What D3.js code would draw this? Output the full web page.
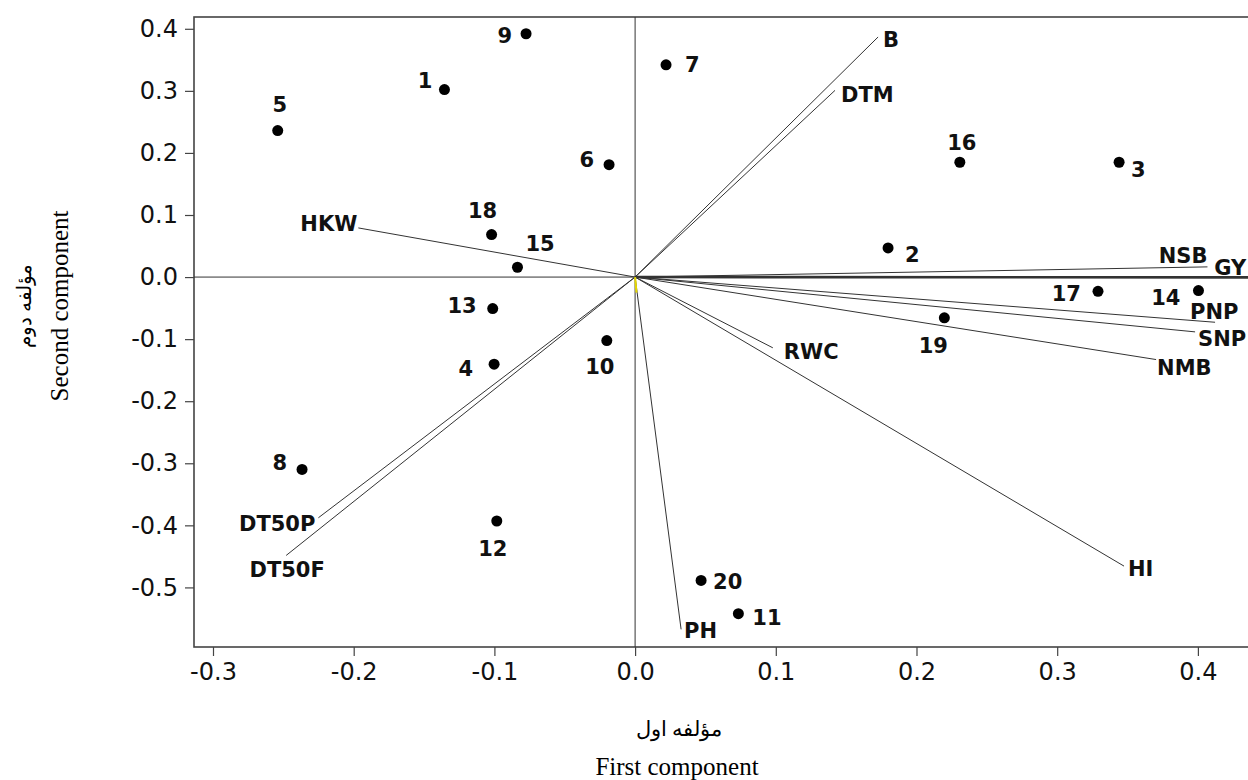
<!DOCTYPE html>
<html>
<head>
<meta charset="utf-8">
<script src="https://cdn.jsdelivr.net/npm/d3@7"></script>
<style>
  body { margin: 0; background: #fff; }
</style>
</head>
<body>
<div id="chart"></div>
<script>
/* DATA */
// genotype scores on the first two components
var genotypes = ["1","2","3","4","5","6","7","8","9","10","11","12","13","14","15","16","17","18","19","20"];
var pc1Scores = [-0.1355, 0.1798, 0.344, -0.1002, -0.254, -0.0185, 0.022, -0.2367, -0.0775, -0.0201,
                 0.0734, -0.0983, -0.1012, 0.4004, -0.0836, 0.2308, 0.329, -0.102, 0.2198, 0.0469];
var pc2Scores = [0.302, 0.047, 0.185, -0.1404, 0.236, 0.181, 0.342, -0.310, 0.392, -0.1023,
                 -0.5424, -0.393, -0.0507, -0.0217, 0.0158, 0.185, -0.0229, 0.0684, -0.0657, -0.4887];

// trait loadings (vectors)
var traits = ["B","DTM","HKW","NSB","GY","PNP","SNP","NMB","RWC","HI","PH","DT50P","DT50F",""];
var pc1Loadings = [0.1727, 0.1421, -0.1967, 0.4068, 0.44, 0.4122, 0.398, 0.3703, 0.0979, 0.3475, 0.0327, -0.2251, -0.248, 0.001];
var pc2Loadings = [0.3868, 0.3008, 0.0792, 0.0164, -0.0005, -0.0728, -0.0883, -0.1329, -0.114, -0.4657, -0.5676, -0.3878, -0.4485, -0.025];

var xTicks = [-0.3, -0.2, -0.1, 0.0, 0.1, 0.2, 0.3, 0.4];
var yTicks = [-0.5, -0.4, -0.3, -0.2, -0.1, 0.0, 0.1, 0.2, 0.3, 0.4];

/* LABEL PLACEMENT (dx, dy from mark, text-anchor) */
var scoreLabelPos = {
  "1": [-12, -2, "end"],   "2": [17, 14, "start"],  "3": [12, 15, "start"],  "4": [-21, 12, "end"],
  "5": [2, -19, "middle"], "6": [-15, 2, "end"],    "7": [19, 7, "start"],   "8": [-15, 1, "end"],
  "9": [-14, 9, "end"],    "10": [-7, 33, "middle"], "11": [14, 11, "start"], "12": [-4, 35, "middle"],
  "13": [-16, 4, "end"],   "14": [-18, 14, "end"],  "15": [8, -16, "start"], "16": [2, -12, "middle"],
  "17": [-17, 10, "end"],  "18": [-9, -17, "middle"], "19": [-11, 35, "middle"], "20": [12, 9, "start"]
};
var traitLabelPos = {
  "B": [5, 10, "start"], "DTM": [6, 12, "start"], "HKW": [-1, 3, "end"], "NSB": [0, -4, "end"],
  "GY": [-40, -2, "start"], "PNP": [-25, -3, "start"], "SNP": [3, 14, "start"], "NMB": [1, 15, "start"],
  "RWC": [11, 11, "start"], "HI": [4, 10, "start"], "PH": [3, 9, "start"],
  "DT50P": [-3, 13, "end"], "DT50F": [1, 22, "middle"]
};

/* SETUP */
var width = 1248;
var height = 780;

var svg = d3.select("#chart")
  .append("svg")
  .attr("width", width)
  .attr("height", height);

var x = d3.scaleLinear()
  .domain([-0.3135, 0.446])
  .range([194, 194 + (0.446 + 0.3135) * 1407]);

var y = d3.scaleLinear()
  .domain([-0.596, 0.419])
  .range([647, 17]);

var fmt = function(d) { return d3.format(".1f")(d).replace("\u2212", "-"); };

// axes
var xAxis = svg.append("g")
  .attr("transform", "translate(0," + y.range()[0] + ")")
  .call(d3.axisBottom(x).tickValues(xTicks).tickFormat(fmt).tickSize(9).tickPadding(7));

var yAxis = svg.append("g")
  .attr("transform", "translate(" + x.range()[0] + ",0)")
  .call(d3.axisLeft(y).tickValues(yTicks).tickFormat(fmt).tickSize(9).tickPadding(7));

[xAxis, yAxis].forEach(function(a) {
  a.select(".domain").remove();
  a.selectAll(".tick line").attr("stroke", "#444").attr("stroke-width", 1.2);
  a.selectAll(".tick text")
    .attr("fill", "#111")
    .style("font-family", "'DejaVu Sans', Verdana, sans-serif")
    .style("font-size", "24px");
});

// frame
svg.append("rect")
  .attr("x", x.range()[0])
  .attr("y", y.range()[1])
  .attr("width", x.range()[1] - x.range()[0])
  .attr("height", y.range()[0] - y.range()[1])
  .attr("fill", "none")
  .attr("stroke", "#444")
  .attr("stroke-width", 1.6);

// zero reference lines
svg.append("line")
  .attr("x1", x(0)).attr("x2", x(0))
  .attr("y1", y.range()[1]).attr("y2", y.range()[0])
  .attr("stroke", "#333").attr("stroke-width", 1);
svg.append("line")
  .attr("x1", x.range()[0]).attr("x2", x.range()[1])
  .attr("y1", y(0)).attr("y2", y(0))
  .attr("stroke", "#333").attr("stroke-width", 1);

// trait vectors
var traitData = traits.map(function(t, i) {
  return { name: t, pc1: pc1Loadings[i], pc2: pc2Loadings[i] };
});

svg.append("g").selectAll("line")
  .data(traitData)
  .enter()
  .append("line")
  .attr("x1", x(0))
  .attr("y1", y(0))
  .attr("x2", function(d) { return x(d.pc1); })
  .attr("y2", function(d) { return y(d.pc2); })
  .attr("stroke", function(d) { return d.name === "" ? "#e6d800" : "#333"; })
  .attr("stroke-width", function(d) { return d.name === "GY" ? 2.6 : (d.name === "" ? 2 : 1); });

svg.append("g").selectAll("text")
  .data(traitData.filter(function(d) { return d.name !== ""; }))
  .enter()
  .append("text")
  .attr("x", function(d) { return x(d.pc1) + traitLabelPos[d.name][0]; })
  .attr("y", function(d) { return y(d.pc2) + traitLabelPos[d.name][1]; })
  .attr("text-anchor", function(d) { return traitLabelPos[d.name][2]; })
  .style("font-family", "'DejaVu Sans', Verdana, sans-serif")
  .style("font-weight", "bold")
  .style("font-size", "21px")
  .attr("fill", "#111")
  .text(function(d) { return d.name; });

// genotype points
var scoreData = genotypes.map(function(g, i) {
  return { name: g, pc1: pc1Scores[i], pc2: pc2Scores[i] };
});

svg.append("g").selectAll("circle")
  .data(scoreData)
  .enter()
  .append("circle")
  .attr("cx", function(d) { return x(d.pc1); })
  .attr("cy", function(d) { return y(d.pc2); })
  .attr("r", 5.5)
  .attr("fill", "#000");

svg.append("g").selectAll("text")
  .data(scoreData)
  .enter()
  .append("text")
  .attr("x", function(d) { return x(d.pc1) + scoreLabelPos[d.name][0]; })
  .attr("y", function(d) { return y(d.pc2) + scoreLabelPos[d.name][1]; })
  .attr("text-anchor", function(d) { return scoreLabelPos[d.name][2]; })
  .style("font-family", "'DejaVu Sans', Verdana, sans-serif")
  .style("font-weight", "bold")
  .style("font-size", "21px")
  .attr("fill", "#111")
  .text(function(d) { return d.name; });

// axis titles
svg.append("text")
  .attr("x", 679).attr("y", 736)
  .attr("text-anchor", "middle")
  .style("font-family", "'Liberation Serif', 'DejaVu Serif', serif")
  .style("font-size", "21px")
  .text("مؤلفه اول");

svg.append("text")
  .attr("x", 677).attr("y", 775)
  .attr("text-anchor", "middle")
  .style("font-family", "'Liberation Serif', 'Times New Roman', serif")
  .style("font-size", "25px")
  .text("First component");

svg.append("text")
  .attr("transform", "translate(31,306) rotate(-90)")
  .attr("text-anchor", "middle")
  .style("font-family", "'Liberation Serif', 'DejaVu Serif', serif")
  .style("font-size", "20px")
  .text("مؤلفه دوم");

svg.append("text")
  .attr("transform", "translate(68,306) rotate(-90)")
  .attr("text-anchor", "middle")
  .style("font-family", "'Liberation Serif', 'Times New Roman', serif")
  .style("font-size", "25px")
  .text("Second component");
</script>
</body>
</html>
